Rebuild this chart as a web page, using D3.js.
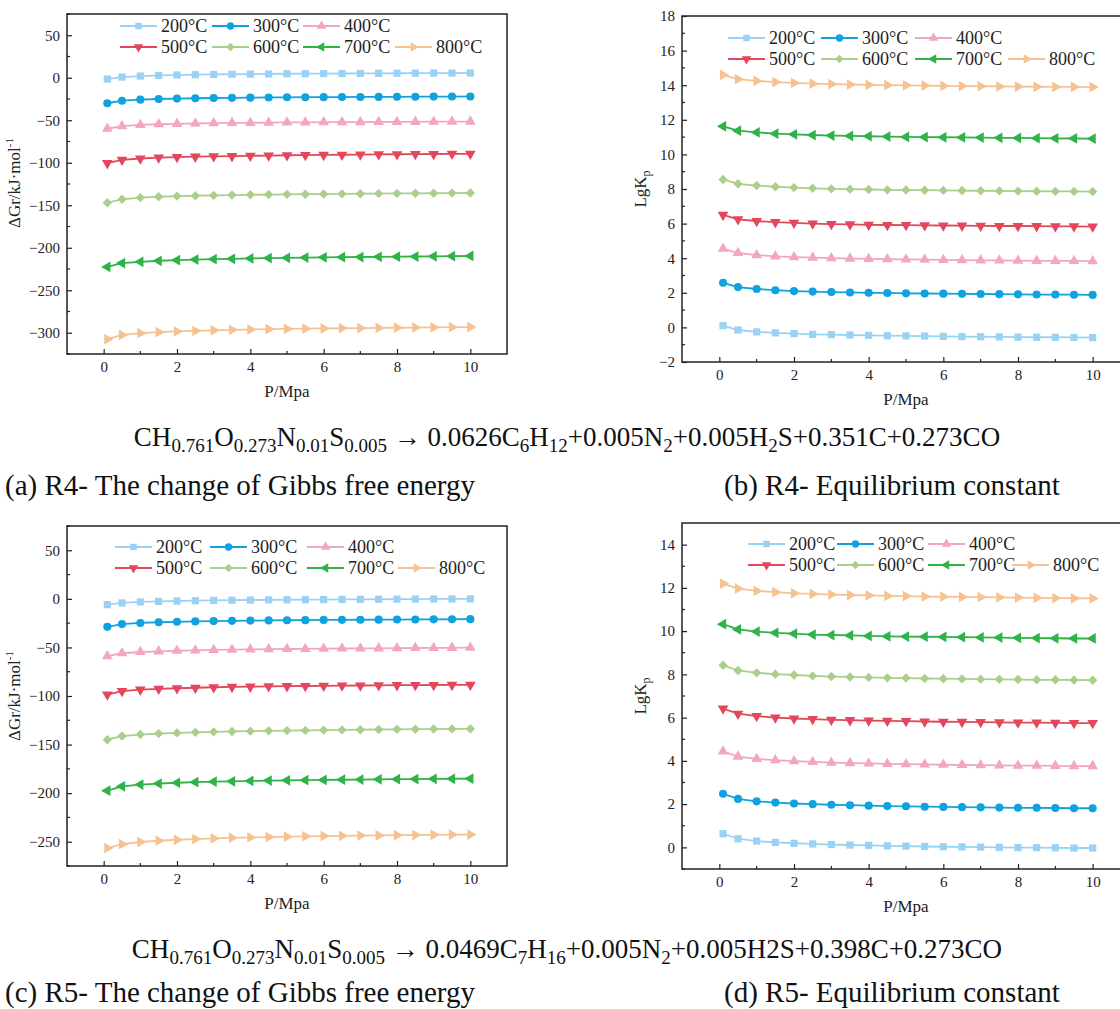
<!DOCTYPE html>
<html>
<head>
<meta charset="utf-8">
<script src="https://cdn.jsdelivr.net/npm/d3@7"></script>
<style>
  body { margin: 0; background: #fff; }
  svg { display: block; font-family: "Liberation Serif", "Times New Roman", serif; }
  svg text { font-family: "Liberation Serif", "Times New Roman", serif; }
</style>
</head>
<body>
<svg width="1120" height="1009"></svg>
<script>
// pressure points (MPa) shared by every series
const pressure = [0.1, 0.5, 1, 1.5, 2, 2.5, 3, 3.5, 4, 4.5, 5, 5.5, 6, 6.5, 7, 7.5, 8, 8.5, 9, 9.5, 10];
const temps = ["200°C", "300°C", "400°C", "500°C", "600°C", "700°C", "800°C"];
const colors = ["#9bd2f3", "#0fa2de", "#f2a5c4", "#e3475b", "#a8d08c", "#2fb349", "#f5c391"];

// (a) R4 dGr, kJ/mol, one row per temperature
const gibbsR4 = [
  [-1.5, 0.8, 2.0, 2.7, 3.2, 3.6, 3.9, 4.1, 4.3, 4.5, 4.7, 4.8, 4.9, 5.0, 5.1, 5.2, 5.3, 5.4, 5.5, 5.5, 5.6],
  [-30, -27, -25.8, -25, -24.5, -24.1, -23.8, -23.6, -23.4, -23.2, -23.0, -22.9, -22.8, -22.7, -22.6, -22.5, -22.4, -22.3, -22.2, -22.1, -22.0],
  [-60, -57, -55.5, -54.7, -54.2, -53.8, -53.5, -53.2, -53.0, -52.8, -52.6, -52.5, -52.3, -52.2, -52.1, -52.0, -51.9, -51.8, -51.7, -51.6, -51.5],
  [-100.5, -96.5, -95, -94, -93.4, -92.9, -92.5, -92.1, -91.8, -91.5, -91.2, -91.0, -90.8, -90.6, -90.4, -90.2, -90.0, -89.9, -89.7, -89.6, -89.5],
  [-147, -143, -141, -140, -139.3, -138.8, -138.4, -138.0, -137.7, -137.4, -137.2, -137.0, -136.8, -136.6, -136.4, -136.3, -136.1, -136.0, -135.9, -135.7, -135.6],
  [-222.5, -218, -216.5, -215.3, -214.6, -213.9, -213.4, -213.0, -212.6, -212.2, -211.9, -211.6, -211.3, -211.1, -210.9, -210.7, -210.5, -210.3, -210.1, -209.9, -209.7],
  [-307.5, -302.5, -300.5, -299.3, -298.4, -297.7, -297.1, -296.6, -296.2, -295.8, -295.5, -295.2, -294.9, -294.7, -294.5, -294.3, -294.1, -293.9, -293.7, -293.5, -293.3]
];

// (b) R4 LgKp
const lgkR4 = [
  [0.1, -0.15, -0.26, -0.32, -0.36, -0.4, -0.42, -0.44, -0.46, -0.48, -0.49, -0.5, -0.52, -0.53, -0.54, -0.55, -0.56, -0.57, -0.57, -0.58, -0.59],
  [2.58, 2.33, 2.22, 2.15, 2.1, 2.07, 2.04, 2.02, 2.0, 1.99, 1.97, 1.96, 1.95, 1.94, 1.93, 1.92, 1.91, 1.9, 1.9, 1.89, 1.88],
  [4.55, 4.3, 4.18, 4.11, 4.06, 4.03, 4.0, 3.98, 3.96, 3.94, 3.93, 3.92, 3.9, 3.89, 3.88, 3.87, 3.86, 3.85, 3.84, 3.84, 3.83],
  [6.5, 6.25, 6.15, 6.08, 6.04, 6.0, 5.97, 5.95, 5.93, 5.92, 5.91, 5.9, 5.89, 5.88, 5.87, 5.86, 5.86, 5.85, 5.84, 5.84, 5.83],
  [8.55, 8.3, 8.2, 8.13, 8.08, 8.04, 8.01, 7.99, 7.97, 7.95, 7.94, 7.93, 7.92, 7.91, 7.9, 7.89, 7.88, 7.87, 7.86, 7.86, 7.85],
  [11.62, 11.37, 11.27, 11.2, 11.16, 11.12, 11.09, 11.07, 11.05, 11.03, 11.01, 11.0, 10.99, 10.98, 10.97, 10.96, 10.95, 10.94, 10.93, 10.92, 10.91],
  [14.6, 14.35, 14.25, 14.18, 14.13, 14.09, 14.06, 14.04, 14.02, 14.0, 13.99, 13.98, 13.96, 13.95, 13.94, 13.93, 13.92, 13.91, 13.9, 13.9, 13.89]
];

// (c) R5 dGr
const gibbsR5 = [
  [-6, -4.2, -3.2, -2.6, -2.2, -1.9, -1.6, -1.4, -1.2, -1.0, -0.9, -0.8, -0.7, -0.6, -0.5, -0.4, -0.3, -0.2, -0.1, -0.1, 0.0],
  [-28.8, -26, -24.8, -24.1, -23.6, -23.2, -22.9, -22.6, -22.4, -22.2, -22.0, -21.9, -21.7, -21.6, -21.5, -21.4, -21.3, -21.2, -21.1, -21.0, -20.9],
  [-59, -56, -54.7, -54, -53.4, -53.0, -52.6, -52.3, -52.1, -51.8, -51.6, -51.5, -51.3, -51.1, -51.0, -50.9, -50.7, -50.6, -50.5, -50.4, -50.3],
  [-98.5, -95, -93.5, -92.6, -92.0, -91.5, -91.0, -90.7, -90.4, -90.1, -89.9, -89.7, -89.5, -89.3, -89.2, -89.0, -88.9, -88.8, -88.7, -88.6, -88.5],
  [-145, -141.3, -139.7, -138.7, -138.0, -137.4, -136.9, -136.5, -136.2, -135.9, -135.6, -135.4, -135.1, -134.9, -134.7, -134.5, -134.3, -134.2, -134.0, -133.9, -133.8],
  [-197.5, -193, -191.2, -190.1, -189.3, -188.7, -188.2, -187.8, -187.4, -187.1, -186.8, -186.6, -186.4, -186.2, -186.0, -185.8, -185.6, -185.5, -185.3, -185.2, -185.1],
  [-256.5, -252.5, -250.3, -249, -248, -247.3, -246.6, -246.0, -245.6, -245.2, -244.8, -244.5, -244.2, -243.9, -243.7, -243.5, -243.3, -243.1, -242.9, -242.8, -242.6]
];

// (d) R5 LgKp
const lgkR5 = [
  [0.63, 0.4, 0.29, 0.23, 0.19, 0.16, 0.13, 0.11, 0.09, 0.07, 0.06, 0.04, 0.03, 0.02, 0.01, 0.0, -0.01, -0.01, -0.02, -0.03, -0.03],
  [2.48, 2.24, 2.13, 2.07, 2.03, 2.0, 1.97, 1.95, 1.93, 1.91, 1.9, 1.88, 1.87, 1.86, 1.85, 1.84, 1.83, 1.83, 1.82, 1.81, 1.81],
  [4.44, 4.2, 4.09, 4.03, 3.99, 3.95, 3.92, 3.9, 3.88, 3.86, 3.85, 3.84, 3.82, 3.81, 3.8, 3.79, 3.78, 3.78, 3.77, 3.76, 3.76],
  [6.42, 6.18, 6.07, 6.0, 5.96, 5.93, 5.9, 5.88, 5.86, 5.85, 5.84, 5.82, 5.81, 5.8, 5.79, 5.78, 5.77, 5.77, 5.76, 5.75, 5.75],
  [8.42, 8.18, 8.07, 8.01, 7.97, 7.93, 7.9, 7.88, 7.86, 7.84, 7.83, 7.81, 7.8, 7.79, 7.78, 7.77, 7.76, 7.75, 7.75, 7.74, 7.73],
  [10.32, 10.08, 9.98, 9.92, 9.88, 9.84, 9.82, 9.8, 9.78, 9.76, 9.75, 9.74, 9.73, 9.72, 9.71, 9.7, 9.69, 9.68, 9.67, 9.66, 9.66],
  [12.2, 11.97, 11.86, 11.8, 11.75, 11.72, 11.69, 11.67, 11.65, 11.63, 11.62, 11.6, 11.59, 11.58, 11.57, 11.56, 11.55, 11.54, 11.53, 11.52, 11.51]
];

const svg = d3.select("svg");
svg.append("rect").attr("width", 1120).attr("height", 1009).attr("fill", "#fff");

// marker shapes: square, circle, up, down, diamond, left, right
const markers = [
  { type: d3.symbolSquare, size: 52, rot: 0 },
  { type: d3.symbolCircle, size: 52, rot: 0 },
  { type: d3.symbolTriangle, size: 50, rot: 0 },
  { type: d3.symbolTriangle, size: 50, rot: 180 },
  { type: d3.symbolSquare, size: 44, rot: 45 },
  { type: d3.symbolTriangle, size: 50, rot: -90 },
  { type: d3.symbolTriangle, size: 50, rot: 90 }
];

function drawPanel(p, rows) {
  const x = d3.scaleLinear().domain([-1, 11]).range([p.left, p.right]);
  const y = d3.scaleLinear().domain(p.yDomain).range([p.bottom, p.top]);
  const g = svg.append("g");

  // frame
  g.append("rect")
    .attr("x", p.left).attr("y", p.top)
    .attr("width", p.right - p.left).attr("height", p.bottom - p.top)
    .attr("fill", "none").attr("stroke", "#222").attr("stroke-width", 1.5);

  // x axis, ticks pointing inward
  const xMajor = d3.range(0, 11, 2);
  const xMinor = d3.range(1, 11, 2);
  const xa = g.append("g").attr("transform", `translate(0,${p.bottom})`)
    .call(d3.axisBottom(x).tickValues(xMajor).tickSizeInner(-5).tickSizeOuter(0).tickPadding(7));
  xa.attr("font-family", null);
  xa.select(".domain").remove();
  xa.selectAll("text").attr("font-size", 15).attr("fill", "#222");
  xa.selectAll("line").attr("stroke", "#222").attr("stroke-width", 1.2);
  g.selectAll(null).data(xMinor).enter().append("line")
    .attr("x1", d => x(d)).attr("x2", d => x(d))
    .attr("y1", p.bottom).attr("y2", p.bottom - 3)
    .attr("stroke", "#222").attr("stroke-width", 1.2);

  // y axis
  const ya = g.append("g").attr("transform", `translate(${p.left},0)`)
    .call(d3.axisLeft(y).tickValues(p.yTicks).tickSizeInner(-5).tickSizeOuter(0).tickPadding(7));
  ya.attr("font-family", null);
  ya.select(".domain").remove();
  ya.selectAll("text").attr("font-size", 15).attr("fill", "#222");
  ya.selectAll("line").attr("stroke", "#222").attr("stroke-width", 1.2);
  g.selectAll(null).data(p.yMinor).enter().append("line")
    .attr("x1", p.left).attr("x2", p.left + 3)
    .attr("y1", d => y(d)).attr("y2", d => y(d))
    .attr("stroke", "#222").attr("stroke-width", 1.2);

  // axis titles
  g.append("text")
    .attr("x", (p.left + p.right) / 2).attr("y", p.bottom + 43)
    .attr("text-anchor", "middle").attr("font-size", 17).attr("fill", "#222")
    .text("P/Mpa");
  const yt = g.append("text")
    .attr("transform", `translate(${p.yTitleX},${p.yTitleY}) rotate(-90)`)
    .attr("text-anchor", "middle").attr("fill", "#222");
  if (p.kind === "gibbs") {
    yt.attr("font-size", 17);
    yt.append("tspan").text("ΔGr/kJ·mol");
    yt.append("tspan").attr("font-size", 11).attr("dy", -7).text("-1");
  } else {
    yt.attr("font-size", 17);
    yt.append("tspan").text("LgK");
    yt.append("tspan").attr("font-size", 12).attr("dy", 4).text("p");
  }

  // series
  const line = d3.line().x((d, i) => x(pressure[i])).y(d => y(d));
  rows.forEach((vals, k) => {
    g.append("path").datum(vals)
      .attr("d", line).attr("fill", "none")
      .attr("stroke", colors[k]).attr("stroke-width", 1.8);
    const m = markers[k];
    g.selectAll(null).data(vals).enter().append("path")
      .attr("d", d3.symbol().type(m.type).size(m.size))
      .attr("transform", (d, i) => `translate(${x(pressure[i])},${y(d)}) rotate(${m.rot})`)
      .attr("fill", colors[k]);
  });

  // legend, 3 + 4 items
  temps.forEach((t, k) => {
    const row = k < 3 ? 0 : 1;
    const col = k < 3 ? k : k - 3;
    const lx = p.legX[col];
    const ly = p.legY[row];
    g.append("line").attr("x1", lx).attr("x2", lx + 37).attr("y1", ly).attr("y2", ly)
      .attr("stroke", colors[k]).attr("stroke-width", 1.8);
    const m = markers[k];
    g.append("path").attr("d", d3.symbol().type(m.type).size(m.size * 0.8)())
      .attr("transform", `translate(${lx + 18.5},${ly}) rotate(${m.rot})`)
      .attr("fill", colors[k]);
    g.append("text").attr("x", lx + 41).attr("y", ly + 6)
      .attr("font-size", 18).attr("fill", "#222").text(t);
  });
}

drawPanel({
  kind: "gibbs", left: 67, right: 507, top: 14, bottom: 354,
  yDomain: [-325, 75], yTicks: d3.range(-300, 51, 50), yMinor: d3.range(-325, 76, 50),
  yTitleX: 20, yTitleY: 183,
  legX: [120, 212, 303, 395], legY: [26, 47]
}, gibbsR4);

drawPanel({
  kind: "lgk", left: 682, right: 1130, top: 16, bottom: 362,
  yDomain: [-2, 18], yTicks: d3.range(-2, 19, 2), yMinor: d3.range(-1, 18, 2),
  yTitleX: 646, yTitleY: 189,
  legX: [728, 821, 915, 1008], legY: [38, 59]
}, lgkR4);

drawPanel({
  kind: "gibbs", left: 67, right: 507, top: 526, bottom: 866,
  yDomain: [-275, 75], yTicks: d3.range(-250, 51, 50), yMinor: d3.range(-275, 76, 50),
  yTitleX: 20, yTitleY: 696,
  legX: [115, 210, 307, 398], legY: [547, 568]
}, gibbsR5);

drawPanel({
  kind: "lgk", left: 682, right: 1130, top: 523, bottom: 869,
  yDomain: [-1, 15], yTicks: d3.range(0, 15, 2), yMinor: d3.range(-1, 15, 2),
  yTitleX: 646, yTitleY: 696,
  legX: [748, 837, 928, 1012], legY: [544, 565]
}, lgkR5);

// reaction equations: [text, isSubscript]
function equation(parts, cx, baseline) {
  const t = svg.append("text").attr("x", cx).attr("y", baseline)
    .attr("text-anchor", "middle").attr("font-size", 27).attr("fill", "#111");
  let sub = false;
  parts.forEach(([s, isSub]) => {
    const ts = t.append("tspan").text(s);
    if (isSub && !sub) { ts.attr("dy", 6).attr("font-size", 19); sub = true; }
    else if (isSub) { ts.attr("font-size", 19); }
    else if (sub) { ts.attr("dy", -6); sub = false; }
  });
}

equation([
  ["CH", 0], ["0.761", 1], ["O", 0], ["0.273", 1], ["N", 0], ["0.01", 1], ["S", 0], ["0.005", 1],
  [" → 0.0626C", 0], ["6", 1], ["H", 0], ["12", 1], ["+0.005N", 0], ["2", 1], ["+0.005H", 0], ["2", 1],
  ["S+0.351C+0.273CO", 0]
], 567, 446);

equation([
  ["CH", 0], ["0.761", 1], ["O", 0], ["0.273", 1], ["N", 0], ["0.01", 1], ["S", 0], ["0.005", 1],
  [" → 0.0469C", 0], ["7", 1], ["H", 0], ["16", 1], ["+0.005N", 0], ["2", 1],
  ["+0.005H2S+0.398C+0.273CO", 0]
], 567, 958);

const captions = [
  ["(a) R4- The change of Gibbs free energy", 5, 495],
  ["(b) R4- Equilibrium constant", 724, 495],
  ["(c) R5- The change of Gibbs free energy", 5, 1002],
  ["(d) R5- Equilibrium constant", 724, 1002]
];
captions.forEach(([s, cx, cy]) => {
  svg.append("text").attr("x", cx).attr("y", cy)
    .attr("font-size", 29).attr("fill", "#111").text(s);
});
</script>
</body>
</html>
